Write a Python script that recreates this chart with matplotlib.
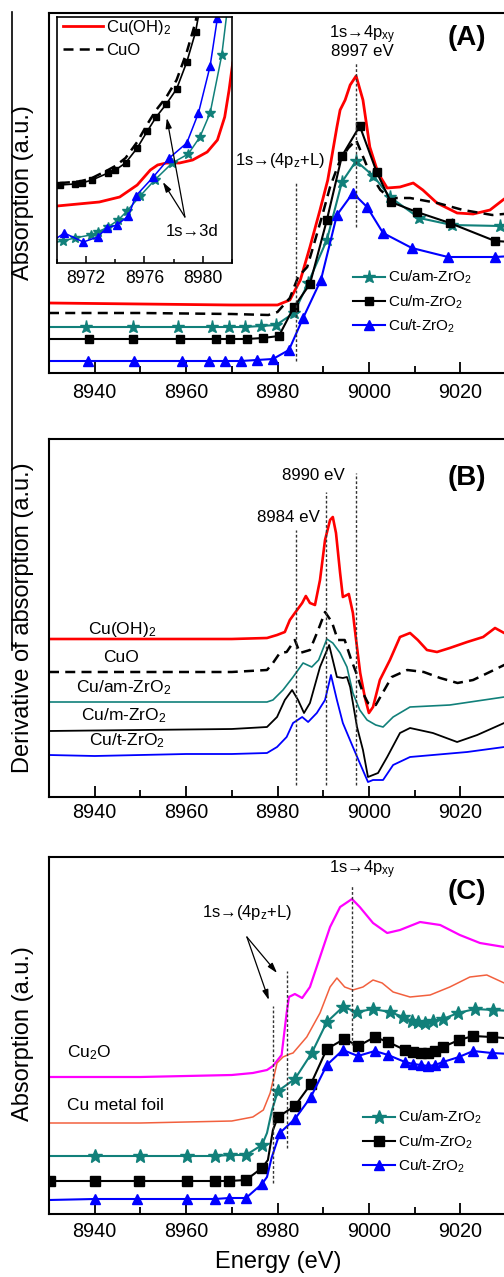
import matplotlib
matplotlib.use('Agg')
import matplotlib.pyplot as plt
from matplotlib.lines import Line2D
import numpy as np

plt.rcParams['font.family'] = ['Liberation Sans', 'DejaVu Sans']
plt.rcParams['mathtext.fontset'] = 'custom'
plt.rcParams['mathtext.rm'] = 'Liberation Sans'
plt.rcParams['mathtext.it'] = 'Liberation Sans:italic'
plt.rcParams['mathtext.bf'] = 'Liberation Sans:bold'

# ---------------- Panel A : XANES spectra ----------------
a_ohx = [8930, 8950, 8970, 8980, 8982.7, 8985, 8987.1, 8989.3, 8991, 8993, 8993.7, 8994.8, 8995.9, 8997.2,
         8998.7, 9000.2, 9002, 9004, 9006.8, 9009.7, 9011.8, 9014.9, 9019.3, 9022.8, 9026.5, 9029.6, 9034, 9040]
a_ohy = [0.70, 0.69, 0.68, 0.68, 0.73, 0.93, 1.26, 1.63, 1.93, 2.46, 2.63, 2.73, 2.88, 2.97,
         2.73, 2.26, 2.00, 1.85, 1.86, 1.90, 1.83, 1.70, 1.60, 1.59, 1.63, 1.74, 1.83, 1.88]
a_cuox = [8930, 8950, 8970, 8978, 8980, 8982.7, 8984.5, 8986.5, 8987.8, 8989.7, 8991.5, 8993.7, 8995.5, 8997.2,
          9000.2, 9002.5, 9004.6, 9009, 9015, 9020.6, 9027, 9032, 9040]
a_cuoy = [0.60, 0.60, 0.59, 0.58, 0.61, 0.75, 0.96, 1.06, 1.26, 1.56, 1.86, 2.13, 2.25, 2.33,
          2.00, 1.83, 1.75, 1.75, 1.70, 1.63, 1.58, 1.60, 1.63]
a_mx = [8930, 8938.8, 8948.4, 8958.7, 8966.5, 8969.6, 8973.3, 8976.8, 8980.3, 8983.6, 8987.1, 8990.8, 8994.1,
        8998, 9001.7, 9004.8, 9010.5, 9017.7, 9027.6, 9035]
a_my = [0.34, 0.34, 0.34, 0.34, 0.34, 0.34, 0.34, 0.35, 0.37, 0.66, 0.89, 1.53, 2.17,
        2.47, 2.01, 1.71, 1.61, 1.50, 1.32, 1.30]
a_amx = [8930, 8938, 8948.4, 8958.2, 8965.7, 8969.4, 8972.9, 8976.4, 8979.7, 8983.6, 8986.7, 8990.8, 8994.1,
         8997.2, 9001, 9004.6, 9011, 9018.2, 9028.7, 9036]
a_amy = [0.46, 0.46, 0.46, 0.46, 0.46, 0.46, 0.46, 0.47, 0.48, 0.60, 0.90, 1.33, 1.91,
         2.12, 1.97, 1.76, 1.55, 1.48, 1.47, 1.47]
a_tx = [8930, 8938.6, 8948.6, 8959, 8965, 8968.5, 8972, 8975.5, 8979, 8982.5, 8985.6, 8989.5, 8993,
        8996.5, 8999.6, 9003.1, 9009.4, 9017.3, 9027.6, 9035]
a_ty = [0.12, 0.12, 0.12, 0.12, 0.12, 0.12, 0.12, 0.13, 0.14, 0.23, 0.55, 0.93, 1.58,
        1.80, 1.66, 1.40, 1.25, 1.16, 1.16, 1.18]

# inset of panel A (pre-edge)
i_ohx = [8970, 8972.9, 8974.3, 8975.5, 8976.4, 8976.9, 8977.5, 8978.4, 8979.3, 8980.3, 8981.0, 8981.5, 8981.8, 8982.05]
i_ohy = [0.57, 0.61, 0.66, 0.78, 0.93, 0.98, 1.00, 1.00, 1.03, 1.11, 1.23, 1.46, 1.73, 2.00]
i_mx = [8970.2, 8971.2, 8971.7, 8972.4, 8973.5, 8974.0, 8974.7, 8975.5, 8976.2, 8976.8, 8977.5, 8978.2, 8978.9, 8979.5, 8979.9]
i_my = [0.78, 0.79, 0.80, 0.83, 0.90, 0.93, 1.00, 1.15, 1.32, 1.46, 1.59, 1.74, 2.01, 2.31, 2.63]
i_cuoy = [0.80, 0.81, 0.82, 0.85, 0.93, 0.97, 1.05, 1.21, 1.39, 1.53, 1.66, 1.83, 2.11, 2.41, 2.73]
i_amx = [8970, 8970.4, 8971.2, 8972.3, 8972.8, 8973.5, 8974.2, 8974.8, 8975.7, 8976.7, 8977.9, 8979.0, 8979.8, 8980.5, 8981.3, 8981.8]
i_amy = [0.21, 0.22, 0.25, 0.28, 0.31, 0.36, 0.43, 0.52, 0.67, 0.83, 1.00, 1.09, 1.26, 1.50, 2.08, 2.68]
i_tx = [8970, 8970.5, 8971.8, 8972.8, 8973.4, 8974.1, 8974.9, 8975.4, 8976.6, 8977.7, 8978.9, 8979.7, 8980.5, 8981.0, 8981.2]
i_ty = [0.25, 0.30, 0.21, 0.26, 0.35, 0.38, 0.47, 0.67, 0.86, 1.05, 1.20, 1.50, 1.97, 2.45, 2.68]

# ---------------- Panel B : derivative spectra ----------------
b_ohx = [8930, 8950, 8970, 8977.7, 8979.9, 8981.6, 8982.7, 8983.8, 8985.4, 8986.2, 8987.1, 8988.2, 8989.3, 8990.4,
         8991.5, 8992.1, 8992.8, 8993.7, 8994.3, 8995.2, 8995.6, 8996.5, 8997.2, 8998.1, 8999.1, 9000, 9000.9,
         9002.4, 9004.6, 9006.8, 9009, 9010.7, 9012.7, 9014.9, 9017.7, 9021.5, 9025, 9027.6, 9029.6, 9035, 9040]
b_ohy = [1.58, 1.58, 1.58, 1.59, 1.62, 1.65, 1.77, 1.84, 1.94, 2.01, 1.94, 1.92, 2.17, 2.57,
         2.77, 2.80, 2.64, 2.24, 2.00, 2.02, 2.03, 1.84, 1.57, 1.24, 1.00, 0.84, 0.90,
         1.17, 1.37, 1.60, 1.64, 1.57, 1.47, 1.45, 1.49, 1.55, 1.60, 1.69, 1.64, 1.57, 1.52]
b_cuox = [8930, 8950, 8970, 8977.7, 8979, 8980.5, 8982, 8983.8, 8984.9, 8987.1, 8988.9, 8990.4, 8991.9, 8993.2,
          8994.7, 8996, 8997.4, 8998.7, 8999.8, 9001.5, 9003, 9005, 9008.4, 9012, 9015.6, 9019.4, 9022.8,
          9026, 9029.6, 9035, 9040]
b_cuoy = [1.25, 1.25, 1.25, 1.27, 1.34, 1.44, 1.45, 1.57, 1.44, 1.47, 1.67, 1.85, 1.75, 1.57,
          1.57, 1.39, 1.22, 1.04, 0.94, 0.92, 1.04, 1.20, 1.27, 1.25, 1.19, 1.14, 1.17,
          1.24, 1.32, 1.42, 1.47]
b_amx = [8930, 8950, 8970, 8977.7, 8979, 8981.2, 8983.4, 8985.6, 8987.5, 8989, 8990.8, 8992.1, 8993.7, 8995.2,
         8996.5, 8998, 8999.6, 9001.5, 9003.1, 9005.3, 9009, 9017.7, 9029.6, 9040]
b_amy = [0.95, 0.95, 0.95, 0.95, 0.97, 1.07, 1.20, 1.34, 1.30, 1.37, 1.58, 1.54, 1.44, 1.30,
         1.04, 0.87, 0.77, 0.72, 0.70, 0.80, 0.90, 0.92, 1.00, 1.05]
b_mx = [8930, 8950, 8970, 8977.7, 8979.9, 8981.6, 8983.2, 8984.5, 8985.8, 8987.1, 8989.3, 8991.3, 8993, 8994.3,
        8995.2, 8995.9, 8997.4, 8998.7, 8999.8, 9002, 9004, 9006.8, 9009, 9014, 9019.3, 9023.7, 9029.6, 9040]
b_my = [0.66, 0.67, 0.68, 0.70, 0.80, 0.97, 1.07, 0.97, 0.84, 0.94, 1.30, 1.52, 1.20, 1.19,
        1.20, 1.10, 0.70, 0.47, 0.20, 0.24, 0.40, 0.64, 0.69, 0.64, 0.55, 0.62, 0.74, 0.85]
b_tx = [8930, 8940, 8950, 8960, 8970, 8977.7, 8979.9, 8982, 8983.4, 8985.4, 8986.7, 8988.6, 8990.4, 8991.7,
        8993, 8994.3, 8996.5, 8998, 8999.8, 9000.9, 9003.1, 9005.3, 9009, 9014, 9021.5, 9029.6, 9040]
b_ty = [0.42, 0.41, 0.42, 0.43, 0.43, 0.44, 0.50, 0.60, 0.74, 0.80, 0.75, 0.84, 0.97, 1.22,
        0.97, 0.74, 0.50, 0.34, 0.15, 0.17, 0.17, 0.32, 0.40, 0.42, 0.45, 0.50, 0.55]
b_labels = ['Cu(OH)$_2$', 'CuO', 'Cu/am-ZrO$_2$', 'Cu/m-ZrO$_2$', 'Cu/t-ZrO$_2$']
b_label_y = [1.63, 1.35, 1.05, 0.77, 0.52]
b_label_x = [8946.0, 8945.8, 8946.4, 8946.4, 8947.1]

# ---------------- Panel C : references and catalysts ----------------
c_o2x = [8930, 8950, 8970, 8974.6, 8977.7, 8979, 8980.9, 8982, 8982.5, 8983.8, 8985.4, 8987.1, 8989.3, 8991.5,
         8993.7, 8996.3, 8998, 9000.9, 9004, 9006.8, 9011.2, 9015.6, 9019.9, 9024.3, 9029.6, 9035, 9040]
c_o2y = [1.37, 1.37, 1.39, 1.41, 1.44, 1.48, 1.59, 2.01, 2.17, 2.20, 2.16, 2.27, 2.57, 2.87,
         3.07, 3.15, 3.07, 2.91, 2.81, 2.84, 2.92, 2.89, 2.79, 2.71, 2.67, 2.65, 2.64]
c_fx = [8930, 8950, 8970, 8974.6, 8976.9, 8978.4, 8979.9, 8981.2, 8982.7, 8983.4, 8986.4, 8989.3, 8991.5, 8993,
        8994.7, 8996.5, 8998.7, 9000.9, 9002.9, 9005.3, 9009, 9013.4, 9017.7, 9022.1, 9025.8, 9029.6, 9035, 9040]
c_fy = [0.91, 0.91, 0.93, 0.97, 1.04, 1.21, 1.51, 1.57, 1.60, 1.61, 1.77, 2.01, 2.27, 2.36,
        2.27, 2.24, 2.27, 2.34, 2.31, 2.22, 2.17, 2.19, 2.27, 2.37, 2.39, 2.31, 2.24, 2.21]
c_amx = [8930, 8940, 8949.9, 8960.2, 8966.3, 8969.6, 8973.1, 8976.6, 8977.7, 8978.8, 8980.1, 8983.8, 8987.5,
         8990.8, 8994.3, 8997.4, 9000.9, 9004.6, 9007.5, 9009.4, 9010.7, 9012.3, 9014, 9016.2, 9019.5, 9023.2,
         9027.2, 9035, 9040]
c_amy = [0.58, 0.58, 0.58, 0.58, 0.58, 0.59, 0.59, 0.69, 0.81, 1.04, 1.23, 1.35, 1.61,
         1.92, 2.07, 2.02, 2.05, 2.02, 1.97, 1.93, 1.92, 1.91, 1.93, 1.95, 2.01, 2.05,
         2.04, 2.02, 2.01]
c_mx = [8930.2, 8940, 8949.7, 8960.2, 8966.3, 8969.4, 8973.1, 8976.6, 8977.9, 8979.0, 8980.1, 8983.8, 8987.3,
        8990.8, 8994.6, 8997.7, 9001.3, 9004.2, 9007.9, 9009.7, 9011.4, 9013, 9014.5, 9016.2, 9019.7, 9022.8,
        9026.9, 9035, 9040]
c_my = [0.33, 0.33, 0.33, 0.33, 0.33, 0.33, 0.34, 0.46, 0.54, 0.84, 0.97, 1.08, 1.30,
        1.65, 1.75, 1.68, 1.77, 1.72, 1.64, 1.62, 1.61, 1.61, 1.63, 1.67, 1.74, 1.78,
        1.77, 1.74, 1.72]
c_tx = [8930, 8940, 8949.3, 8960.2, 8966.3, 8969.4, 8973.1, 8976.6, 8977.7, 8978.7, 8980.5, 8983.8, 8987.3,
        8990.8, 8994.3, 8997.6, 9001.3, 9004.2, 9007.9, 9009.7, 9011.4, 9013, 9014.5, 9016.2, 9019.7, 9022.8,
        9026.9, 9035, 9040]
c_ty = [0.14, 0.15, 0.15, 0.15, 0.15, 0.16, 0.16, 0.30, 0.37, 0.56, 0.81, 0.95, 1.17,
        1.49, 1.64, 1.58, 1.63, 1.59, 1.52, 1.50, 1.49, 1.48, 1.49, 1.52, 1.57, 1.63,
        1.61, 1.59, 1.58]

catalyst_labels = ['Cu/am-ZrO$_2$', 'Cu/m-ZrO$_2$', 'Cu/t-ZrO$_2$']
energy_ticks = [8940, 8960, 8980, 9000, 9020]

RED = '#ff0000'
TEAL = '#11807a'
BLUE = '#0000ff'
MAG = '#ff00ff'
FOIL = '#f2603e'

W, H = 504, 1277
fig = plt.figure(figsize=(W / 100, H / 100), dpi=100)
XMIN, XMAX = 8930, 9040
PXEV = 4.57
RIGHT = 49 + (XMAX - XMIN) * PXEV


def px_axes(left, top, right, bottom):
    return fig.add_axes([left / W, 1 - bottom / H, (right - left) / W, (bottom - top) / H])


def style(ax, pad):
    ax.set_xlim(XMIN, XMAX)
    ax.set_xticks(energy_ticks)
    ax.set_xticks(np.arange(8930, 9041, 10), minor=True)
    ax.tick_params(axis='x', which='major', direction='in', length=8, width=1.3,
                   labelsize=14.3, pad=pad, top=False)
    ax.tick_params(axis='x', which='minor', direction='in', length=5, width=1.3, top=False)
    ax.set_yticks([])
    for s in ax.spines.values():
        s.set_linewidth(1.5)


def mk(n, skip):
    return [i for i in range(n) if i not in skip]


def vdot(ax, x, y0, y1):
    ax.plot([x, x], [y0, y1], color='#333333', lw=1.0, ls=(0, (2, 1.5)))


# ---------- Panel A ----------
axA = px_axes(49, 13, RIGHT, 373)
style(axA, 7.5)
axA.set_ylim(0, 3.60)
axA.plot(a_ohx, a_ohy, color=RED, lw=2.0)
axA.plot(a_cuox, a_cuoy, color='black', lw=1.8, ls=(0, (4, 2.5)))
axA.plot(a_amx, a_amy, color=TEAL, lw=1.5, marker='*', ms=9.5, mec=TEAL, mfc=TEAL,
         markevery=mk(len(a_amx), [0, len(a_amx) - 1]))
axA.plot(a_mx, a_my, color='black', lw=1.5, marker='s', ms=6.2,
         markevery=mk(len(a_mx), [0, len(a_mx) - 1]))
axA.plot(a_tx, a_ty, color=BLUE, lw=1.5, marker='^', ms=7.5, mec=BLUE, mfc=BLUE,
         markevery=mk(len(a_tx), [0, len(a_tx) - 1]))
vdot(axA, 8984, 0.12, 1.91)
vdot(axA, 8997.2, 1.46, 3.10)
axA.text(8980.5, 2.13, '1s→(4p$_\\mathregular{z}$+L)', ha='center', va='center', fontsize=12)
axA.text(8998.5, 3.38, '1s→4p$_\\mathregular{xy}$', ha='center', va='center', fontsize=12)
axA.text(8998.5, 3.21, '8997 eV', ha='center', va='center', fontsize=12.2)
axA.text(9021.5, 3.35, '(A)', ha='center', va='center', fontsize=20, fontweight='bold')
hA = [Line2D([], [], color=TEAL, lw=1.5, marker='*', ms=9.5, mec=TEAL, mfc=TEAL),
      Line2D([], [], color='black', lw=1.5, marker='s', ms=6.2),
      Line2D([], [], color=BLUE, lw=1.5, marker='^', ms=7.5, mec=BLUE, mfc=BLUE)]
axA.legend(hA, catalyst_labels, loc='upper left', bbox_to_anchor=(353 / W, 1 - 269 / H),
           bbox_transform=fig.transFigure, frameon=False, fontsize=11, handlelength=2.1,
           handletextpad=0.2, labelspacing=0.45, borderpad=0, borderaxespad=0, numpoints=1)

# inset
axI = px_axes(57, 17, 232, 263)
axI.set_xlim(8970, 8982)
axI.set_ylim(0, 2.46)
axI.set_xticks([8972, 8976, 8980])
axI.set_xticks([8970, 8974, 8978, 8982], minor=True)
axI.tick_params(axis='x', which='major', direction='in', length=5, width=1.1, labelsize=12.7, pad=5)
axI.tick_params(axis='x', which='minor', direction='in', length=3, width=1.1)
axI.set_yticks([])
for s in axI.spines.values():
    s.set_linewidth(1.2)
axI.plot(i_ohx, i_ohy, color=RED, lw=2.0)
axI.plot(i_mx, i_cuoy, color='black', lw=1.8, ls=(0, (4, 2.5)))
axI.plot(i_mx, i_my, color='black', lw=1.2, marker='s', ms=4.8, markevery=mk(len(i_mx), [len(i_mx) - 1]))
axI.plot(i_amx, i_amy, color=TEAL, lw=1.1, marker='*', ms=7, mec=TEAL, mfc=TEAL,
         markevery=mk(len(i_amx), [0, len(i_amx) - 1]))
axI.plot(i_tx, i_ty, color=BLUE, lw=1.1, marker='^', ms=6, mec=BLUE, mfc=BLUE,
         markevery=mk(len(i_tx), [0, len(i_tx) - 1]))
for hx, hy in [(8977.53, 1.45), (8977.26, 0.81)]:
    axI.annotate('', xy=(hx, hy), xytext=(8978.77, 0.46),
                 arrowprops=dict(arrowstyle='-|>,head_length=0.6,head_width=0.18', color='black',
                                 lw=0.9, shrinkA=0, shrinkB=0))
axI.text(8979.3, 0.31, '1s→3d', ha='center', va='center', fontsize=12)
hI = [Line2D([], [], color=RED, lw=2.0), Line2D([], [], color='black', lw=1.8, ls=(0, (4, 2.5)))]
axI.legend(hI, ['Cu(OH)$_2$', 'CuO'], loc='upper left', bbox_to_anchor=(63 / W, 1 - 18 / H),
           bbox_transform=fig.transFigure, frameon=False, fontsize=12, handlelength=2.4,
           handletextpad=0.2, labelspacing=0.35, borderpad=0, borderaxespad=0)

# ---------- Panel B ----------
axB = px_axes(49, 439, RIGHT, 797)
style(axB, 4.5)
axB.set_ylim(0, 3.58)
axB.plot(b_ohx, b_ohy, color=RED, lw=1.9)
axB.plot(b_cuox, b_cuoy, color='black', lw=1.8, ls=(0, (4, 2.5)))
axB.plot(b_amx, b_amy, color=TEAL, lw=1.2)
axB.plot(b_mx, b_my, color='black', lw=1.3)
axB.plot(b_tx, b_ty, color=BLUE, lw=1.3)
vdot(axB, 8984, 0.12, 2.67)
vdot(axB, 8990.6, 0.12, 3.05)
vdot(axB, 8997.1, 0.12, 3.24)
axB.text(8994.8, 3.21, '8990 eV', ha='right', va='center', fontsize=12.2)
axB.text(8989.3, 2.79, '8984 eV', ha='right', va='center', fontsize=12.2)
axB.text(9021.5, 3.19, '(B)', ha='center', va='center', fontsize=20, fontweight='bold')
for lab, lx, ly in zip(b_labels, b_label_x, b_label_y):
    axB.text(lx, ly, lab, ha='center', va='baseline', fontsize=12.5)

# ---------- Panel C ----------
axC = px_axes(49, 857, RIGHT, 1214)
style(axC, 5.5)
axC.set_ylim(0, 3.57)
axC.plot(c_o2x, c_o2y, color=MAG, lw=1.6)
axC.plot(c_fx, c_fy, color=FOIL, lw=1.1)
axC.plot(c_amx, c_amy, color=TEAL, lw=1.5, marker='*', ms=10, mec=TEAL, mfc=TEAL,
         markevery=mk(len(c_amx), [0, 8, 9, len(c_amx) - 1]))
axC.plot(c_mx, c_my, color='black', lw=1.5, marker='s', ms=6.8,
         markevery=mk(len(c_mx), [8, 9, len(c_mx) - 1]))
axC.plot(c_tx, c_ty, color=BLUE, lw=1.5, marker='^', ms=7.8, mec=BLUE, mfc=BLUE,
         markevery=mk(len(c_tx), [0, 8, 9, len(c_tx) - 1]))
vdot(axC, 8979, 0.31, 2.08)
vdot(axC, 8982, 0.66, 2.43)
vdot(axC, 8996.3, 1.69, 3.29)
axC.text(8998.5, 3.44, '1s→4p$_\\mathregular{xy}$', ha='center', va='center', fontsize=12)
axC.text(9021.5, 3.22, '(C)', ha='center', va='center', fontsize=20, fontweight='bold')
axC.text(8973.3, 3.02, '1s→(4p$_\\mathregular{z}$+L)', ha='center', va='center', fontsize=12)
for hx, hy in [(8978.1, 2.14), (8979.9, 2.41)]:
    axC.annotate('', xy=(hx, hy), xytext=(8973.3, 2.77),
                 arrowprops=dict(arrowstyle='-|>,head_length=0.6,head_width=0.18', color='black',
                                 lw=0.9, shrinkA=0, shrinkB=0))
axC.text(8933.9, 1.61, 'Cu$_2$O', ha='left', va='center', fontsize=12.5)
axC.text(8933.9, 1.09, 'Cu metal foil', ha='left', va='center', fontsize=12.5)
hC = [Line2D([], [], color=TEAL, lw=1.5, marker='*', ms=10, mec=TEAL, mfc=TEAL),
      Line2D([], [], color='black', lw=1.5, marker='s', ms=6.8),
      Line2D([], [], color=BLUE, lw=1.5, marker='^', ms=7.8, mec=BLUE, mfc=BLUE)]
axC.legend(hC, catalyst_labels, loc='upper left', bbox_to_anchor=(363 / W, 1 - 1109 / H),
           bbox_transform=fig.transFigure, frameon=False, fontsize=11, handlelength=2.1,
           handletextpad=0.2, labelspacing=0.45, borderpad=0, borderaxespad=0, numpoints=1)

# axis labels
fig.text(23.5 / W, 1 - 193 / H, 'Absorption (a.u.)', rotation=90, ha='center', va='center', fontsize=17)
fig.text(23.5 / W, 1 - 618 / H, 'Derivative of absorption (a.u.)', rotation=90, ha='center', va='center', fontsize=17)
fig.text(23.5 / W, 1 - 1034 / H, 'Absorption (a.u.)', rotation=90, ha='center', va='center', fontsize=17)
fig.text(278 / W, 1 - 1262 / H, 'Energy (eV)', ha='center', va='center', fontsize=17)

# outer frame fragment on the left
fig.add_artist(Line2D([12 / W, 12 / W], [1 - 12 / H, 1 - 650 / H], color='black', lw=1.2,
                      transform=fig.transFigure))

fig.savefig('out.png', dpi=100)
